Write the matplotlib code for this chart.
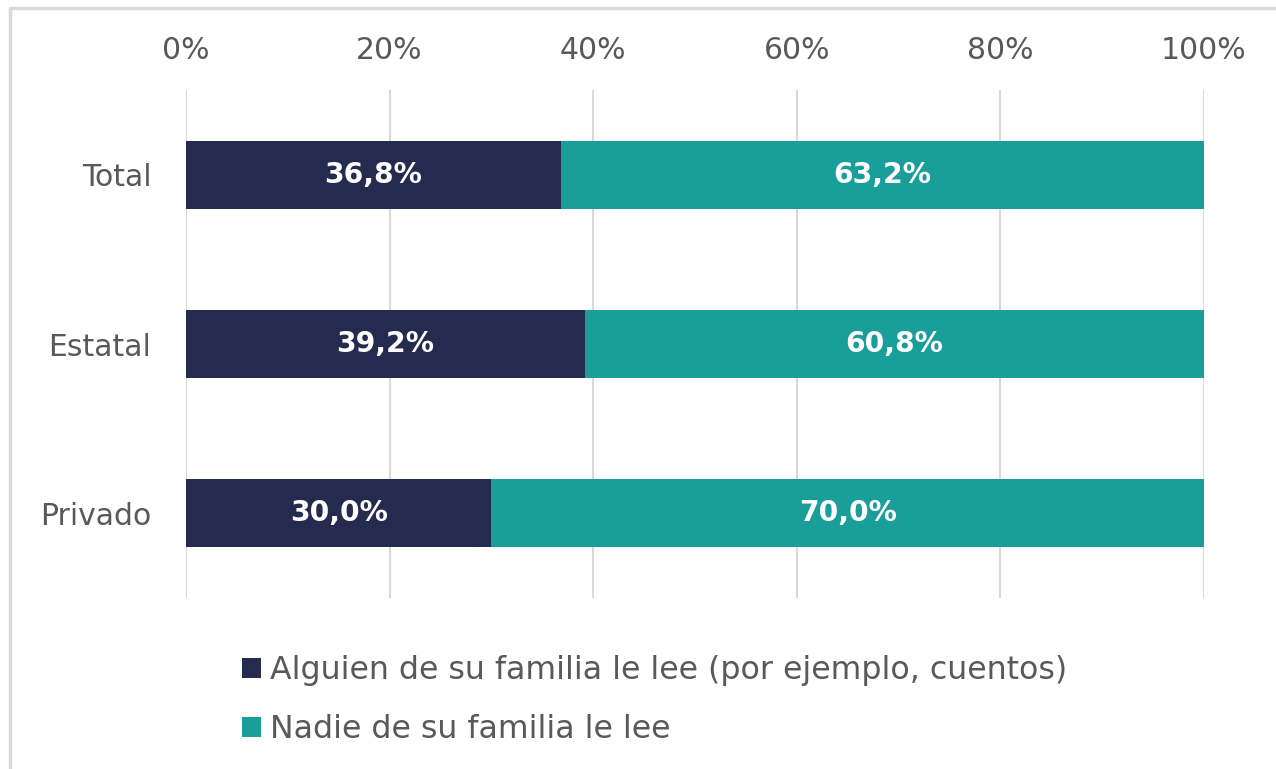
import matplotlib
matplotlib.use("Agg")
import matplotlib.pyplot as plt
from matplotlib.patches import Patch
from matplotlib.lines import Line2D

categories = ["Total", "Estatal", "Privado"]
alguien = [36.8, 39.2, 30.0]
nadie = [63.2, 60.8, 70.0]
series_names = ["Alguien de su familia le lee (por ejemplo, cuentos)", "Nadie de su familia le lee"]
xticks = [0, 20, 40, 60, 80, 100]
xtick_labels = ["0%", "20%", "40%", "60%", "80%", "100%"]

navy = "#252B4E"
teal = "#1A9E99"
gray_text = "#595959"
grid_c = "#D9D9D9"

plt.rcParams['font.family'] = ['DejaVu Sans']

W, H = 1276, 769
fig = plt.figure(figsize=(W/100, H/100), dpi=100)
ax = fig.add_axes([186/W, 1-598/H, (1204-186)/W, (598-90)/H])

y = list(range(len(categories)))
ax.barh(y, alguien, height=0.4, color=navy, zorder=3)
ax.barh(y, nadie, left=alguien, height=0.4, color=teal, zorder=3)

def fmt(v):
    return f"{v:.1f}%".replace(".", ",")

for i in y:
    ax.text(alguien[i]/2, i, fmt(alguien[i]), ha="center", va="center", color="white",
            fontsize=20.3, fontweight="bold", zorder=4)
    ax.text(alguien[i] + nadie[i]/2, i, fmt(nadie[i]), ha="center", va="center", color="white",
            fontsize=20.3, fontweight="bold", zorder=4)

ax.set_xlim(0, 100)
ax.set_ylim(len(categories)-0.5, -0.5)
ax.set_yticks(y)
ax.set_yticklabels(categories, fontsize=21.5, color=gray_text)
ax.set_xticks(xticks)
ax.set_xticklabels(xtick_labels, fontsize=21.5, color=gray_text)
ax.xaxis.tick_top()
ax.tick_params(axis="x", length=0, pad=18)
ax.tick_params(axis="y", length=0, pad=25)
ax.grid(axis="x", color=grid_c, linewidth=1.5, zorder=0)
for s in ax.spines.values():
    s.set_visible(False)

handles = [Patch(facecolor=navy), Patch(facecolor=teal)]
leg = fig.legend(handles, series_names, loc="upper left", bbox_to_anchor=(242/W, 1-655/H),
                 frameon=False, fontsize=22.8, handlelength=0.6, handleheight=0.6,
                 handletextpad=0.28, labelspacing=0.9, borderaxespad=0, borderpad=0)
for t in leg.get_texts():
    t.set_color(gray_text)

fig.add_artist(Line2D([10/W, 10/W, 1], [0, 1-8/H, 1-8/H], transform=fig.transFigure,
                      color=grid_c, linewidth=2.5))

fig.savefig("out.png", dpi=100)
